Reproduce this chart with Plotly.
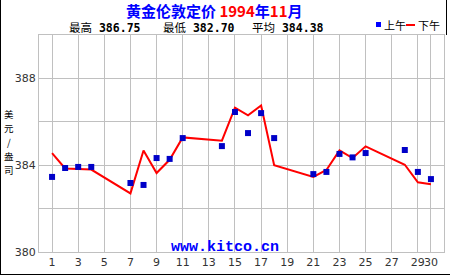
import plotly.graph_objects as go

days = [1, 2, 3, 4, 7, 8, 9, 10, 11, 14, 15, 16, 17, 18, 21, 22, 23, 24, 25, 28, 29, 30]
am_fix = [383.46, 383.87, 383.92, 383.92, 383.18, 383.09, 384.33, 384.29, 385.25, 384.88,
          386.45, 385.48, 386.40, 385.25, 383.59, 383.69, 384.52, 384.36, 384.56, 384.70,
          383.69, 383.36]
pm_fix = [384.56, 383.85, 383.82, 383.80, 382.70, 384.68, 383.64, 384.25, 385.28, 385.13,
          386.65, 386.30, 386.75, 384.00, 383.46, 383.78, 384.68, 384.33, 384.87, 384.02,
          383.21, 383.12]
x_ticks = [1, 3, 5, 7, 9, 11, 13, 15, 17, 19, 21, 23, 25, 27, 29, 30]
y_grid = [380, 382, 384, 386, 388, 390]
y_labels = ["380", "", "384", "", "388", ""]

title_main = "黄金伦敦定价"
title_year = "1994"
title_month = "11"
stat_names = ["最高", "最低", "平均"]
stat_values = ["386.75", "382.70", "384.38"]
legend_names = ["上午", "下午"]
y_title_chars = ["美", "元", "/", "盎", "司"]
watermark = "www.kitco.cn"

W, H = 450, 275
L, R, T, B = 39, 6, 35, 23
PW, PH = W - L - R, H - T - B


def px(x):
    return (x - L) / PW


def py(y):
    return (H - B - y) / PH


fig = go.Figure()
fig.add_trace(go.Scatter(x=days, y=pm_fix, mode="lines",
                         line=dict(color="#ff0000", width=2), name=legend_names[1],
                         hoverinfo="x+y"))
fig.add_trace(go.Scatter(x=days, y=am_fix, mode="markers",
                         marker=dict(symbol="square", size=6, color="#0000c8"),
                         name=legend_names[0], hoverinfo="x+y"))

CJK = "Noto Sans CJK SC"
MONO = "DejaVu Sans Mono"
ann = []
# title
ann.append(dict(
    x=px(214), y=py(10.8), xref="paper", yref="paper", xanchor="center", yanchor="middle",
    showarrow=False,
    text=("<b><span style='color:#0000ff'>" + title_main + " </span>"
          "<span style='color:#ff0000'>" + title_year + "</span>"
          "<span style='color:#0000ff'>年</span>"
          "<span style='color:#ff0000'>" + title_month + "</span>"
          "<span style='color:#0000ff'>月</span></b>"),
    font=dict(family=CJK, size=15)))
# stats
stat_x = [67, 161, 250]
for sx, nm, val in zip(stat_x, stat_names, stat_values):
    ann.append(dict(x=px(sx), y=py(27.5), xref="paper", yref="paper", xanchor="left",
                    yanchor="middle", showarrow=False,
                    text=nm + " <b>" + val + "</b>",
                    font=dict(family=MONO + ", " + CJK, size=11.5, color="#000000")))
# legend texts
ann.append(dict(x=px(382), y=py(25.5), xref="paper", yref="paper", xanchor="left",
                yanchor="middle", showarrow=False, text=legend_names[0],
                font=dict(family=CJK, size=11, color="#000000")))
ann.append(dict(x=px(416), y=py(25.5), xref="paper", yref="paper", xanchor="left",
                yanchor="middle", showarrow=False, text=legend_names[1],
                font=dict(family=CJK, size=11, color="#000000")))
# y-axis title stacked characters
for i, ch in enumerate(y_title_chars):
    ann.append(dict(x=px(9), y=py(114 + 14 * i), xref="paper", yref="paper",
                    xanchor="center", yanchor="middle", showarrow=False, text=ch,
                    borderpad=0,
                    font=dict(family=CJK, size=9.5, color="#000000")))
# watermark
ann.append(dict(x=px(225), y=py(247), xref="paper", yref="paper", xanchor="center",
                yanchor="middle", showarrow=False, text="<b>" + watermark + "</b>",
                font=dict(family="Liberation Mono", size=15, color="#0000ff")))

shapes = [
    dict(type="rect", xref="paper", yref="paper", x0=px(376), x1=px(381), y0=py(22), y1=py(27),
         fillcolor="#0000ff", line=dict(width=0)),
    dict(type="line", xref="paper", yref="paper", x0=px(406), x1=px(415), y0=py(25), y1=py(25),
         line=dict(color="#ff0000", width=2)),
    dict(type="line", xref="paper", yref="paper", x0=px(0.5), x1=px(0.5), y0=py(0), y1=py(275),
         line=dict(color="#000000", width=1)),
    dict(type="line", xref="paper", yref="paper", x0=px(0), x1=px(450), y0=py(274.5), y1=py(274.5),
         line=dict(color="#000000", width=1)),
    dict(type="line", xref="paper", yref="paper", x0=px(446.5), x1=px(446.5), y0=py(0), y1=py(35),
         line=dict(color="#000000", width=1)),
]

fig.update_layout(
    width=W, height=H, margin=dict(l=L, r=R, t=T, b=B, pad=0),
    paper_bgcolor="#ffffff", plot_bgcolor="#ffffff", showlegend=False,
    annotations=ann, shapes=shapes,
    font=dict(family="DejaVu Sans", size=11, color="#333333"),
    xaxis=dict(range=[0, 31], tickmode="array", tickvals=x_ticks,
               ticktext=[str(v) for v in x_ticks], showgrid=True, gridcolor="#c0c0c0",
               gridwidth=1, zeroline=False, showline=True, linecolor="#c0c0c0", mirror=True,
               ticks="", tickangle=0, fixedrange=True,
               tickfont=dict(size=11, color="#333333")),
    yaxis=dict(range=[380, 390], tickmode="array", tickvals=y_grid, ticktext=y_labels,
               showgrid=True, gridcolor="#c0c0c0", gridwidth=1, zeroline=False,
               showline=True, linecolor="#c0c0c0", mirror=True, ticks="", fixedrange=True,
               tickfont=dict(size=11, color="#333333")),
)

fig.write_html("out.html", config={"displayModeBar": False})
